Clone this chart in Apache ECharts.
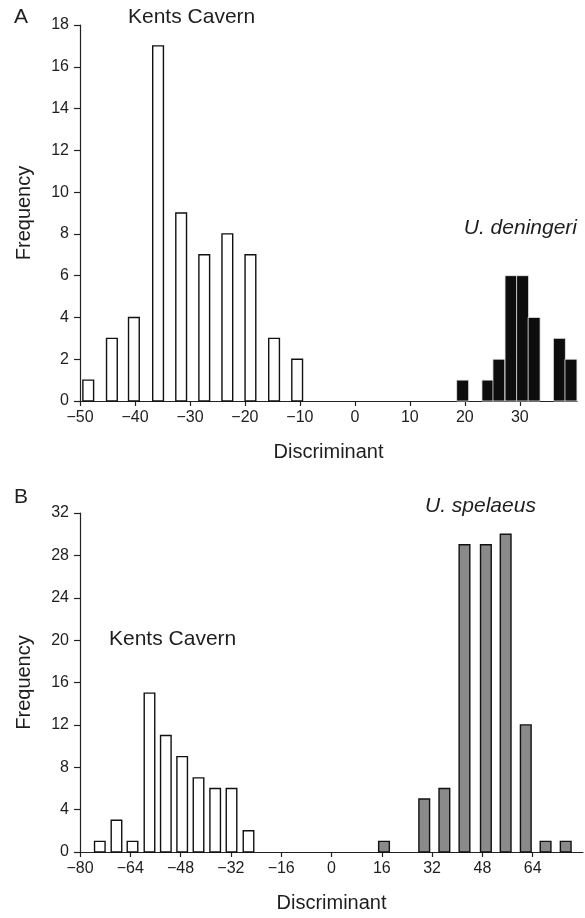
<!DOCTYPE html>
<html>
<head>
<meta charset="utf-8">
<script src="https://cdn.jsdelivr.net/npm/echarts@6/dist/echarts.min.js"></script>
<style>
html,body{margin:0;padding:0;background:#fff;}
#c{width:585px;height:918px;}
</style>
</head>
<body>
<div id="c"></div>
<script>
// Panel A data
const kentsA_x = [-48.5, -44.2, -40.2, -35.8, -31.6, -27.4, -23.2, -19.0, -14.7, -10.5];
const kentsA_freq = [1, 3, 4, 17, 9, 7, 8, 7, 3, 2];
const deningeri_x = [19.6, 24.2, 26.2, 28.4, 30.5, 32.6, 37.2, 39.3];
const deningeri_freq = [1, 1, 2, 6, 6, 4, 3, 2];
const axisA_xTicks = [-50, -40, -30, -20, -10, 0, 10, 20, 30];
const axisA_yTicks = [0, 2, 4, 6, 8, 10, 12, 14, 16, 18];
// Panel B data
const kentsB_x = [-73.7, -68.4, -63.3, -57.9, -52.7, -47.5, -42.3, -37.0, -31.8, -26.4];
const kentsB_freq = [1, 3, 1, 15, 11, 9, 7, 6, 6, 2];
const spelaeus_x = [16.7, 29.5, 35.9, 42.3, 49.1, 55.4, 61.8, 68.1, 74.5];
const spelaeus_freq = [1, 5, 6, 29, 29, 30, 12, 1, 1];
const axisB_xTicks = [-80, -64, -48, -32, -16, 0, 16, 32, 48, 64];
const axisB_yTicks = [0, 4, 8, 12, 16, 20, 24, 28, 32];

const FONT = '"Liberation Sans", Arial, Helvetica, sans-serif';
const TXT = '#1e1e1e';

function pairs(xs, ys) { return xs.map((x, i) => [x, ys[i]]); }

function barRenderer(width, fill, stroke, lw) {
  return function (params, api) {
    const x = api.value(0), y = api.value(1);
    const p0 = api.coord([x - width / 2, y]);
    const p1 = api.coord([x + width / 2, 0]);
    return {
      type: 'rect',
      shape: { x: p0[0], y: p0[1], width: p1[0] - p0[0], height: p1[1] - p0[1] },
      style: { fill: fill, stroke: stroke, lineWidth: lw }
    };
  };
}

function xAxis(gridIndex, min, max, ticks) {
  return {
    type: 'value', gridIndex, min, max,
    axisLine: { show: true, onZero: false, lineStyle: { color: '#222', width: 1.2 } },
    axisTick: { show: true, length: 5, inside: false, customValues: ticks, lineStyle: { color: '#222', width: 1.2 } },
    axisLabel: { customValues: ticks, color: TXT, fontFamily: FONT, fontSize: 16, margin: 9,
      formatter: v => (v < 0 ? '\u2212' + Math.abs(v) : String(v)) },
    splitLine: { show: false },
    name: 'Discriminant', nameLocation: 'middle', nameGap: 41,
    nameTextStyle: { color: TXT, fontFamily: FONT, fontSize: 20 }
  };
}

function yAxis(gridIndex, min, max, ticks) {
  return {
    type: 'value', gridIndex, min, max,
    axisLine: { show: true, onZero: false, lineStyle: { color: '#222', width: 1.2 } },
    axisTick: { show: true, length: 6, inside: false, customValues: ticks, lineStyle: { color: '#222', width: 1.2 } },
    axisLabel: { customValues: ticks, color: TXT, fontFamily: FONT, fontSize: 16, margin: 11 },
    splitLine: { show: false },
    name: 'Frequency', nameLocation: 'middle', nameGap: 46, nameRotate: 90,
    nameTextStyle: { color: TXT, fontFamily: FONT, fontSize: 20 }
  };
}

const chart = echarts.init(document.getElementById('c'), null, { renderer: 'canvas' });
chart.setOption({
  backgroundColor: '#fff',
  animation: false,
  grid: [
    { left: 80, top: 25, width: 497, height: 376 },
    { left: 80, top: 513, width: 503, height: 339 }
  ],
  xAxis: [
    xAxis(0, -50, 40.4, axisA_xTicks),
    xAxis(1, -80, 80, axisB_xTicks)
  ],
  yAxis: [
    yAxis(0, 0, 18, axisA_yTicks),
    yAxis(1, 0, 32, axisB_yTicks)
  ],
  series: [
    { type: 'custom', xAxisIndex: 0, yAxisIndex: 0, data: pairs(kentsA_x, kentsA_freq),
      renderItem: barRenderer(1.95, '#fff', '#111', 1.4), encode: { x: 0, y: 1 } },
    { type: 'custom', xAxisIndex: 0, yAxisIndex: 0, data: pairs(deningeri_x, deningeri_freq),
      renderItem: barRenderer(2.18, '#0d0d0d', '#e8e8e8', 0.8), encode: { x: 0, y: 1 } },
    { type: 'custom', xAxisIndex: 1, yAxisIndex: 1, data: pairs(kentsB_x, kentsB_freq),
      renderItem: barRenderer(3.35, '#fff', '#111', 1.4), encode: { x: 0, y: 1 } },
    { type: 'custom', xAxisIndex: 1, yAxisIndex: 1, data: pairs(spelaeus_x, spelaeus_freq),
      renderItem: barRenderer(3.4, '#8a8a8a', '#111', 1.4), encode: { x: 0, y: 1 } }
  ],
  graphic: [
    { type: 'text', left: 14, top: 7, style: { text: 'A', font: '21px ' + FONT, fill: TXT } },
    { type: 'text', left: 128, top: 7, style: { text: 'Kents Cavern', font: '21px ' + FONT, fill: TXT } },
    { type: 'text', right: 8, top: 218, style: { text: 'U. deningeri', font: 'italic 21px ' + FONT, fill: TXT } },
    { type: 'text', left: 14, top: 487, style: { text: 'B', font: '21px ' + FONT, fill: TXT } },
    { type: 'text', left: 109, top: 629, style: { text: 'Kents Cavern', font: '21px ' + FONT, fill: TXT } },
    { type: 'text', left: 425, top: 496, style: { text: 'U. spelaeus', font: 'italic 21px ' + FONT, fill: TXT } }
  ]
});
</script>
</body>
</html>
